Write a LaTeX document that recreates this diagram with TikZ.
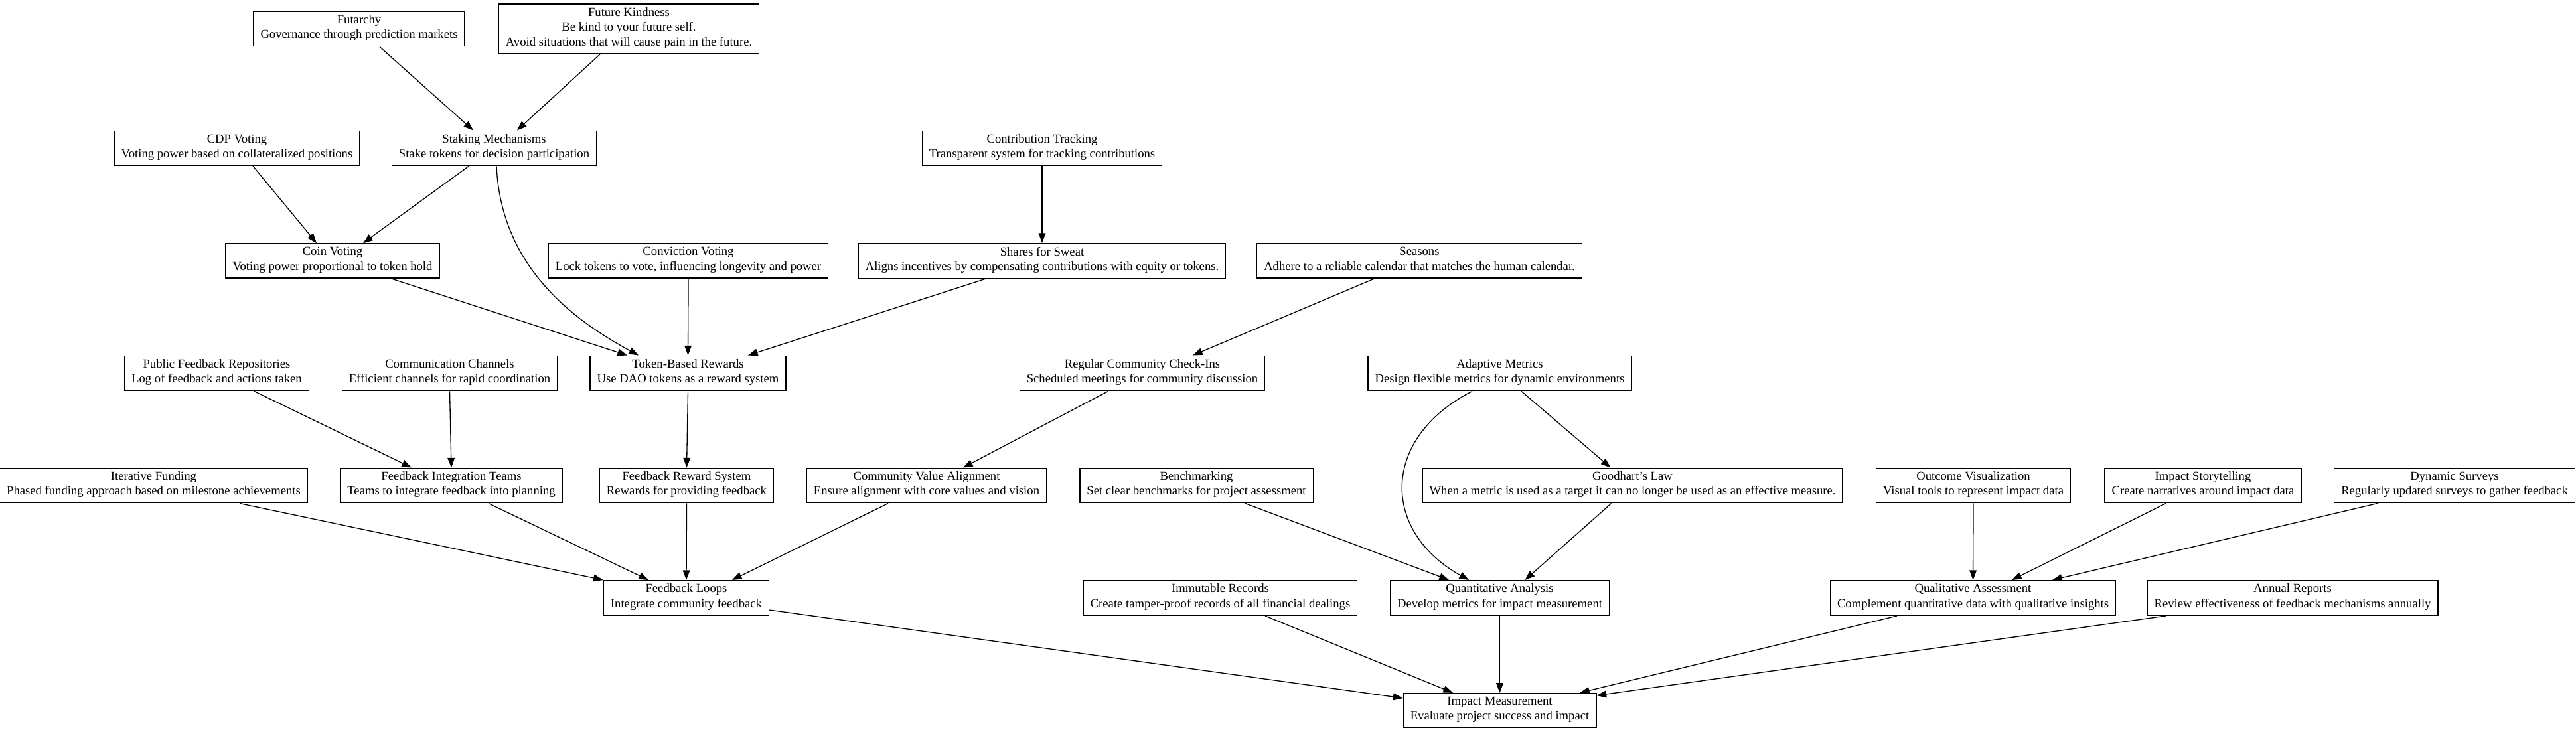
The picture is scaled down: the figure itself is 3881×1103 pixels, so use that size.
\documentclass[tikz,border=0pt]{standalone}
\usepackage{fontspec}
\setmainfont{Liberation Serif}
\usepackage{tikz}
\usetikzlibrary{calc,arrows.meta}
\tikzset{
  box/.style={draw=black, line width=1pt, rectangle, align=center, inner xsep=7.92pt, inner ysep=3.96pt,
    font=\fontsize{14pt}{16.8pt}\selectfont, execute at begin node=\strut, execute at end node=\strut},
  edge/.style={draw=black, line width=1pt, -{Triangle[length=11pt,width=8pt]}},
}

\begin{document}
\begin{tikzpicture}[x=0.75pt,y=-0.75pt]
  \def\rA{43.5}
  \def\rB{223.5}
  \def\rC{393}
  \def\rD{562.5}
  \def\rE{731.5}
  \def\rF{901}
  \def\rG{1070.5}
  \path[use as bounding box, fill=white] (0,0) rectangle (3881,1103);

  % governance
  \node[box] (fut) at (541,\rA) {Futarchy\\Governance through prediction markets};
  \node[box] (fk) at (947.5,\rA) {Future Kindness\\Be kind to your future self.\\Avoid situations that will cause pain in the future.};
  \node[box] (cdp) at (357,\rB) {CDP Voting\\Voting power based on collateralized positions};
  \node[box] (stake) at (744.5,\rB) {Staking Mechanisms\\Stake tokens for decision participation};
  \node[box] (ctrack) at (1570,\rB) {Contribution Tracking\\Transparent system for tracking contributions};
  \node[box] (coin) at (501,\rC) {Coin Voting\\Voting power proportional to token hold};
  \node[box] (conv) at (1037,\rC) {Conviction Voting\\Lock tokens to vote, influencing longevity and power};
  \node[box] (sweat) at (1570,\rC) {Shares for Sweat\\Aligns incentives by compensating contributions with equity or tokens.};
  \node[box] (seas) at (2138.5,\rC) {Seasons\\Adhere to a reliable calendar that matches the human calendar.};

  % feedback
  \node[box] (pfr) at (326.5,\rD) {Public Feedback Repositories\\Log of feedback and actions taken};
  \node[box] (comm) at (677.5,\rD) {Communication Channels\\Efficient channels for rapid coordination};
  \node[box] (tok) at (1036.5,\rD) {Token-Based Rewards\\Use DAO tokens as a reward system};
  \node[box] (rcc) at (1721,\rD) {Regular Community Check-Ins\\Scheduled meetings for community discussion};
  \node[box] (adapt) at (2259.5,\rD) {Adaptive Metrics\\Design flexible metrics for dynamic environments};
  \node[box] (iter) at (231.5,\rE) {Iterative Funding\\Phased funding approach based on milestone achievements};
  \node[box] (fit) at (680,\rE) {Feedback Integration Teams\\Teams to integrate feedback into planning};
  \node[box] (frs) at (1034.5,\rE) {Feedback Reward System\\Rewards for providing feedback};
  \node[box] (cva) at (1396,\rE) {Community Value Alignment\\Ensure alignment with core values and vision};
  \node[box] (bench) at (1802.5,\rE) {Benchmarking\\Set clear benchmarks for project assessment};
  \node[box] (good) at (2459.5,\rE) {Goodhart's Law\\When a metric is used as a target it can no longer be used as an effective measure.};
  \node[box] (outv) at (2973,\rE) {Outcome Visualization\\Visual tools to represent impact data};
  \node[box] (story) at (3319,\rE) {Impact Storytelling\\Create narratives around impact data};
  \node[box] (surv) at (3698,\rE) {Dynamic Surveys\\Regularly updated surveys to gather feedback};

  % measurement
  \node[box] (floop) at (1034,\rF) {Feedback Loops\\Integrate community feedback};
  \node[box] (immut) at (1838.5,\rF) {Immutable Records\\Create tamper-proof records of all financial dealings};
  \node[box] (quant) at (2259.5,\rF) {Quantitative Analysis\\Develop metrics for impact measurement};
  \node[box] (qual) at (2972.5,\rF) {Qualitative Assessment\\Complement quantitative data with qualitative insights};
  \node[box] (annual) at (3454,\rF) {Annual Reports\\Review effectiveness of feedback mechanisms annually};
  \node[box] (impact) at (2259.5,\rG) {Impact Measurement\\Evaluate project success and impact};

  \draw[edge] ($(fut.south)+(31,0)$) -- ($(stake.north)+(-31.5,0)$);
  \draw[edge] ($(fk.south)+(-43.5,0)$) -- ($(stake.north)+(34.5,0)$);
  \draw[edge] ($(cdp.south)+(24,0)$) -- ($(coin.north)+(-24,0)$);
  \draw[edge] ($(stake.south)+(-38.5,0)$) -- ($(coin.north)+(46,0)$);
  \draw[edge] ($(stake.south)+(3.5,0)$) .. controls (755,400) and (860,480) .. ($(tok.north)+(-74.5,0)$);
  \draw[edge] (ctrack.south) -- (sweat.north);
  \draw[edge] ($(coin.south)+(88,0)$) -- ($(tok.north)+(-91.5,0)$);
  \draw[edge] (conv.south) -- (tok.north);
  \draw[edge] ($(sweat.south)+(-85,0)$) -- ($(tok.north)+(90.5,0)$);
  \draw[edge] ($(seas.south)+(-67.5,0)$) -- ($(rcc.north)+(76,0)$);

  \draw[edge] ($(pfr.south)+(56.5,0)$) -- ($(fit.north)+(-60,0)$);
  \draw[edge] (comm.south) -- (fit.north);
  \draw[edge] (tok.south) -- (frs.north);
  \draw[edge] ($(rcc.south)+(-51.5,0)$) -- ($(cva.north)+(55,0)$);
  \draw[edge] ($(adapt.south)+(32.5,0)$) -- ($(good.north)+(-33,0)$);
  \draw[edge] ($(adapt.south)+(-41.5,0)$) .. controls (2080,660) and (2080,800) .. ($(quant.north)+(-46.5,0)$);

  \draw[edge] ($(iter.south)+(129.5,0)$) -- (floop.north west);
  \draw[edge] ($(fit.south)+(56,0)$) -- ($(floop.north)+(-57,0)$);
  \draw[edge] (frs.south) -- (floop.north);
  \draw[edge] ($(cva.south)+(-58,0)$) -- ($(floop.north)+(69,0)$);
  \draw[edge] ($(bench.south)+(73.5,0)$) -- ($(quant.north)+(-76.5,0)$);
  \draw[edge] ($(good.south)+(-32,0)$) -- ($(quant.north)+(38,0)$);
  \draw[edge] (outv.south) -- (qual.north);
  \draw[edge] ($(story.south)+(-56,0)$) -- ($(qual.north)+(58.5,0)$);
  \draw[edge] ($(surv.south)+(-115,0)$) -- ($(qual.north)+(119.5,0)$);

  \draw[edge] ($(floop.east)+(0,18)$) -- ($(impact.west)+(0,-18.5)$);
  \draw[edge] ($(immut.south)+(67.5,0)$) -- ($(impact.north)+(-70.5,0)$);
  \draw[edge] (quant.south) -- (impact.north);
  \draw[edge] ($(qual.south)+(-114.5,0)$) -- ($(impact.north)+(120.5,0)$);
  \draw[edge] ($(annual.south)+(-191,0)$) -- ($(impact.east)+(0,-22.5)$);
\end{tikzpicture}
\end{document}
